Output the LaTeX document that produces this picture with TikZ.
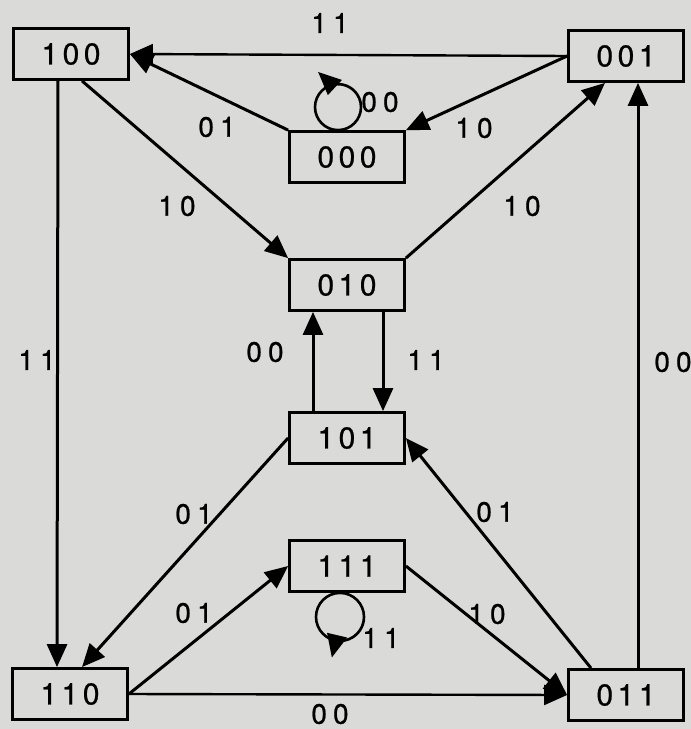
\documentclass[tikz,border=0pt]{standalone}
\usepackage{fontspec}
\setmainfont{TeX Gyre Heros}
\newfontfamily\boxfont[LetterSpace=15, FakeBold=0.8]{TeX Gyre Heros}
\newfontfamily\labfont[LetterSpace=22, FakeBold=0.8]{TeX Gyre Heros}
\usetikzlibrary{arrows.meta}
\definecolor{paper}{RGB}{218,218,216}

\begin{document}
\begin{tikzpicture}[x=1pt, y=1pt,
    state/.style={draw, rectangle, line width=2.8pt, minimum width=115pt, minimum height=51pt, inner sep=0pt, font=\boxfont\fontsize{30}{30}\selectfont},
    lbl/.style={inner sep=0pt, font=\labfont\fontsize{28}{28}\selectfont},
    tr/.style={line width=3pt, -{Triangle[length=23pt, width=20pt]}}]
    \fill[paper] (0, 0) rectangle (691, -729);
    \useasboundingbox (0, 0) rectangle (691, -729);

    \node (s100) at(71, -54) [state]{100};
    \node (s001) at(626, -56) [state]{001};
    \node (s000) at(347, -157) [state]{000};
    \node (s010) at(347, -285) [state]{010};
    \node (s101) at(347, -438) [state]{101};
    \node (s111) at(347, -566) [state]{111};
    \node (s110) at(70, -694) [state]{110};
    \node (s011) at(626, -695) [state]{011};

    \draw[tr, line width=2.4pt] (s001.west) -- (s100.east);
    \draw[tr] (s000.north west) -- (s100.east);
    \draw[tr] (s001.west) -- (s000.north east);
    \draw[tr, line width=2.6pt] ([xshift=-9pt]s000.north) arc[start angle=-90, end angle=465, radius=23] -- ++(-14, 13);
    \draw[tr] ([xshift=11pt]s100.south) -- (s010.north west);
    \draw[tr] (s010.north east) -- ([xshift=-21pt]s001.south);
    \draw[tr] ([xshift=-13pt]s100.south) -- ([xshift=-13pt]s110.north);
    \draw[tr] ([xshift=12pt]s011.north) -- ([xshift=12pt]s001.south);
    \draw[tr] ([xshift=-34pt]s101.north) -- ([xshift=-34pt]s010.south);
    \draw[tr] ([xshift=36pt]s010.south) -- ([xshift=36pt]s101.north);
    \draw[tr] (s101.west) -- ([xshift=12pt]s110.north);
    \draw[tr] ([xshift=-35pt]s011.north) -- (s101.east);
    \draw[tr] (s110.east) -- (s111.west);
    \draw[tr] (s111.east) -- (s011.west);
    \draw[tr, line width=2.6pt] ([xshift=-7pt]s111.south) arc[start angle=90, end angle=-460, radius=24] -- ++(-4, -17);
    \draw[tr, line width=2.4pt] (s110.east) -- (s011.west);

    \node (l11top) at(330, -23) [lbl]{11};
    \node (l01top) at(217, -127) [lbl]{01};
    \node (l00loop) at(380, -102) [lbl]{00};
    \node (l10top) at(474, -128) [lbl]{10};
    \node (l10left) at(177, -206) [lbl]{10};
    \node (l10right) at(522, -206) [lbl]{10};
    \node (l00mid) at(265, -352) [lbl]{00};
    \node (l11mid) at(426, -360) [lbl]{11};
    \node (l11left) at(37, -360) [lbl]{11};
    \node (l00right) at(673, -362) [lbl]{00};
    \node (l01low) at(194, -514) [lbl]{01};
    \node (l01right) at(495, -512) [lbl]{01};
    \node (l01up) at(194, -613) [lbl]{01};
    \node (l10low) at(487, -614) [lbl]{10};
    \node (l11loop) at(381, -638) [lbl]{11};
    \node (l00bot) at(330, -714) [lbl]{00};
\end{tikzpicture}
\end{document}
